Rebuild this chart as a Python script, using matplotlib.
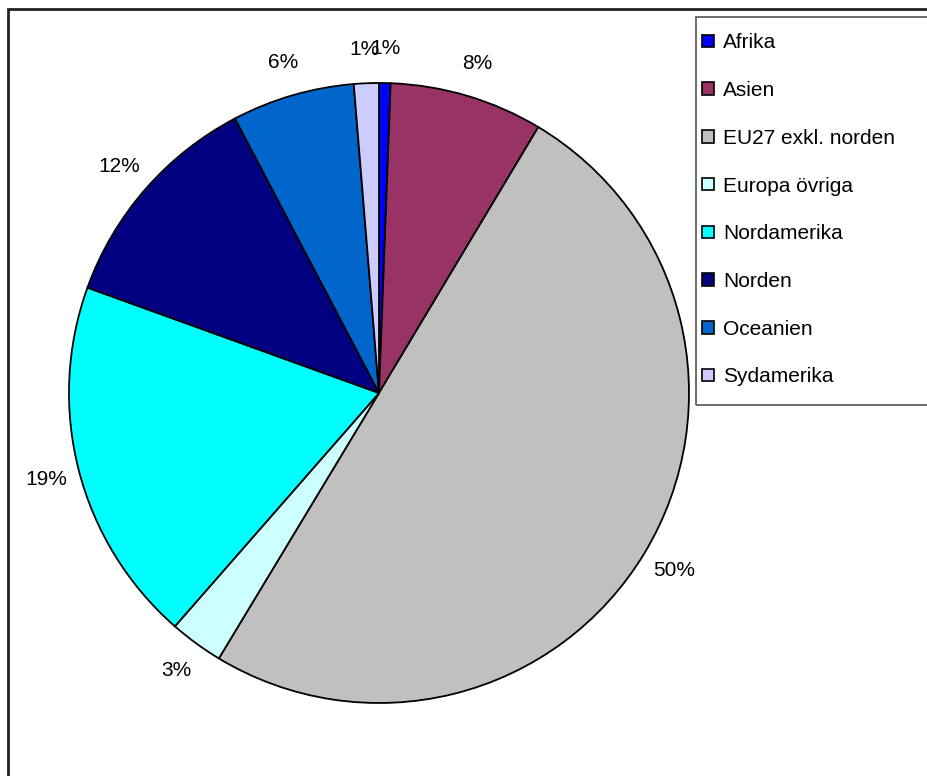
import matplotlib.pyplot as plt
from matplotlib.patches import Rectangle

plt.rcParams['font.family'] = ['Liberation Sans', 'DejaVu Sans']

regions = ["Afrika", "Asien", "EU27 exkl. norden", "Europa övriga",
           "Nordamerika", "Norden", "Oceanien", "Sydamerika"]
shares = [0.6, 8.0, 50.1, 2.8, 19.1, 11.8, 6.4, 1.3]
colors = ["#0000FF", "#993366", "#C0C0C0", "#CCFFFF",
          "#00FFFF", "#000080", "#0066CC", "#CCCCFF"]

W, H = 927, 776
fig = plt.figure(figsize=(W / 100, H / 100), dpi=100)

# outer chart frame (right/bottom edges fall outside the image)
fig.patches.append(Rectangle((8 / W, -0.1), 1.1, 1 - 9 / H + 0.1,
                             transform=fig.transFigure, fill=False,
                             edgecolor="#222222", linewidth=2))

cx, cy, r = 379, 393, 310
ax = fig.add_axes([(cx - r) / W, (H - cy - r) / H, 2 * r / W, 2 * r / H])
wedges, _, autotexts = ax.pie(shares, colors=colors, startangle=90, counterclock=False,
                              autopct='%.0f%%', pctdistance=1.11,
                              wedgeprops=dict(edgecolor="black", linewidth=1.3),
                              textprops=dict(fontsize=15, color="black"))
ax.set_xlim(-1, 1)
ax.set_ylim(-1, 1)
ax.set_aspect("equal")

# legend frame
fig.patches.append(Rectangle((696 / W, 1 - 405 / H), 0.5, (405 - 17) / H,
                             transform=fig.transFigure, fill=False,
                             edgecolor="#555555", linewidth=1.2))
leg = fig.legend(wedges, regions, loc="upper left", bbox_to_anchor=(696 / W, 1 - 27 / H),
                 frameon=False, fontsize=15, handlelength=0.55, handleheight=0.55,
                 handletextpad=0.45, labelspacing=1.38, borderaxespad=0, borderpad=0.3)
for h in leg.legend_handles:
    h.set_linewidth(1.2)
    h.set_edgecolor("black")

fig.savefig("out.png", dpi=100)
